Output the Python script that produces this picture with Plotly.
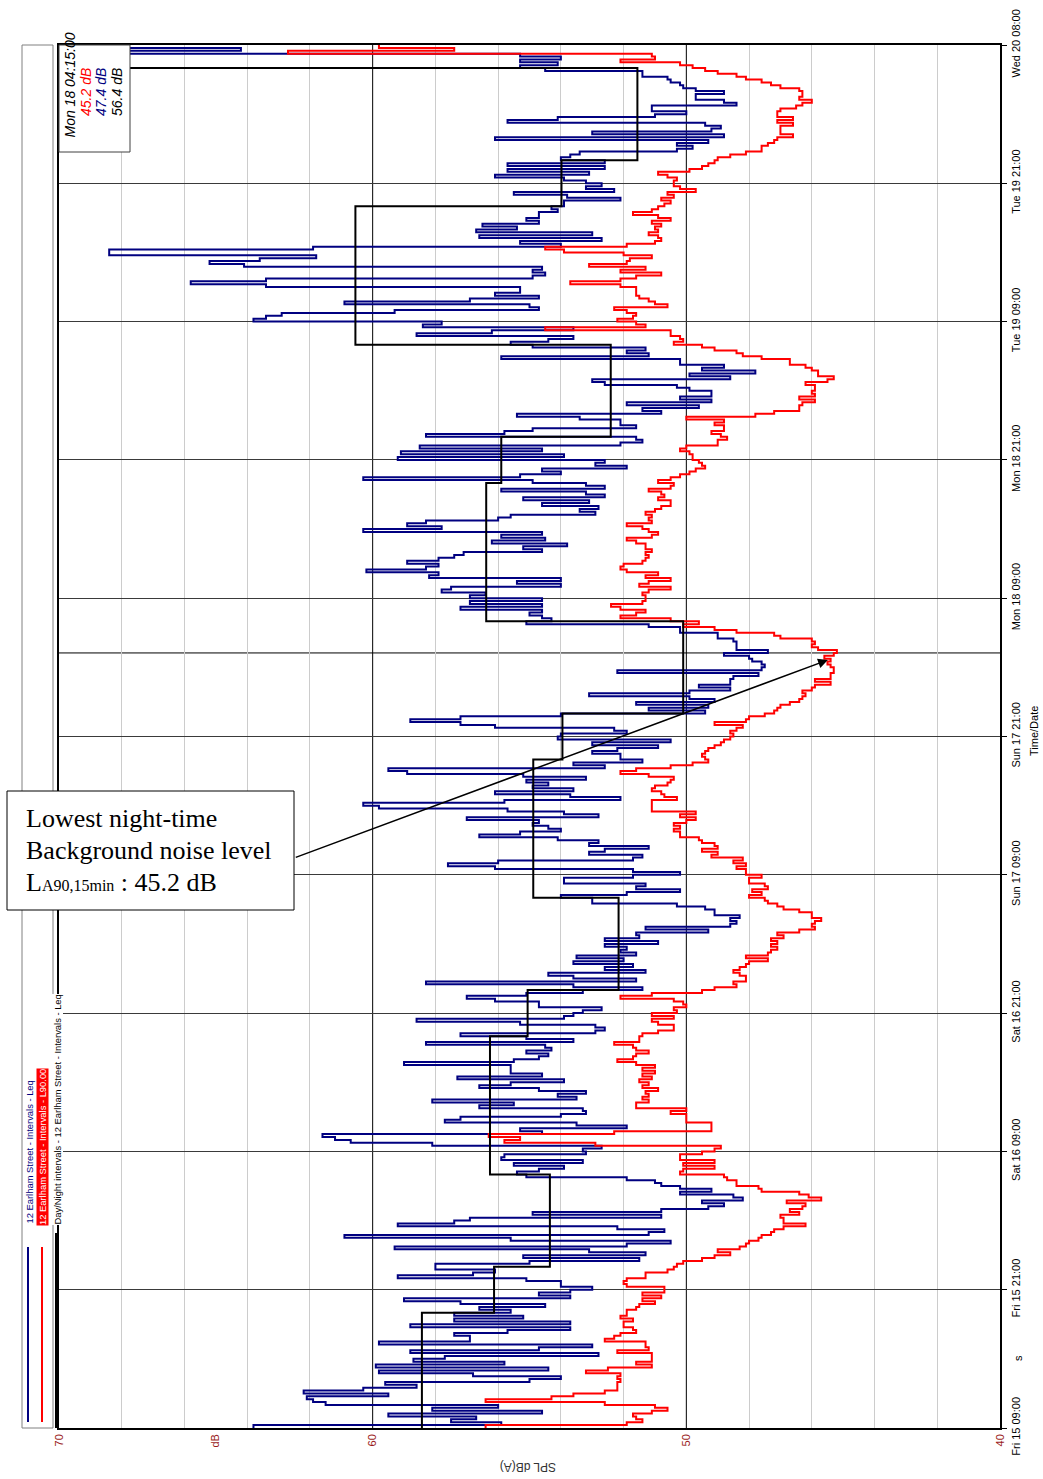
import numpy as np
import plotly.graph_objects as go

# ---------------- data (15-minute intervals from Fri 15 09:00) ----------------
INTERVAL_H = 0.25

blue_leq = [
    63.8, 55.9, 57.5, 56.7, 59.5, 54.6, 58.1, 56.0, 61.5, 61.9, 62.1, 59.5, 62.2, 60.3, 58.6, 59.6,
    55.0, 54.0, 56.8, 59.8, 54.4, 59.9, 55.8, 58.7, 57.7, 52.8, 58.8, 54.7, 53.0, 59.8, 56.9, 56.9,
    57.4, 55.7, 53.7, 58.8, 53.7, 57.4, 55.2, 57.4, 55.6, 56.6, 54.5, 57.2, 59.0, 53.7, 54.7, 53.7,
    53.0, 54.0, 54.0, 55.1, 59.2, 56.8, 56.1, 58.0, 58.0, 55.0, 51.5, 55.2, 51.3, 53.1, 59.3, 51.9,
    50.5, 55.6, 60.9, 51.2, 50.7, 52.2, 59.2, 57.4, 56.9, 50.8, 54.9, 50.8, 49.3, 48.8, 49.5, 48.2,
    48.5, 50.2, 49.2, 50.2, 50.8, 51.0, 51.9, 55.1, 55.4, 54.7, 53.9, 55.5, 53.3, 55.9, 55.8, 53.2,
    53.3, 52.7, 58.1, 60.7, 61.2, 61.6, 54.6, 55.3, 51.9, 53.5, 57.7, 57.2, 54.0, 53.2, 53.3, 56.6,
    55.5, 58.1, 53.5, 54.1, 53.2, 54.7, 56.6, 55.6, 53.9, 57.3, 54.6, 55.6, 55.6, 55.6, 59.0, 55.5,
    54.7, 54.4, 55.1, 54.3, 54.5, 58.3, 53.6, 55.1, 57.2, 52.9, 52.6, 52.9, 55.3, 58.6, 53.9, 53.6,
    53.3, 52.7, 54.7, 54.7, 56.1, 57.0, 55.1, 53.3, 51.4, 53.6, 58.3, 51.6, 53.6, 54.4, 51.3, 52.6,
    51.7, 53.6, 52.0, 53.5, 51.6, 52.1, 51.9, 52.6, 50.9, 52.6, 51.5, 51.6, 49.3, 51.3, 48.6, 48.4,
    48.6, 48.3, 49.1, 49.1, 49.4, 50.3, 53.0, 53.0, 54.0, 51.9, 50.2, 51.6, 51.3, 53.9, 53.9, 51.7,
    50.2, 51.7, 56.1, 57.6, 56.0, 51.7, 51.4, 53.1, 52.6, 51.2, 53.1, 52.8, 54.1, 56.6, 55.3, 54.0,
    54.4, 54.9, 54.7, 57.0, 52.8, 53.9, 55.7, 59.8, 60.3, 55.8, 52.1, 53.7, 56.1, 53.6, 54.9, 54.4,
    55.1, 53.2, 55.2, 58.9, 59.5, 52.6, 53.6, 51.4, 52.1, 52.1, 53.0, 52.2, 50.9, 53.0, 50.5, 54.1,
    54.0, 51.9, 52.3, 56.1, 57.2, 58.8, 57.2, 54.0, 49.4, 51.2, 49.3, 51.6, 49.1, 49.9, 53.1, 49.9,
    48.6, 49.6, 48.6, 48.6, 48.5, 47.7, 52.2, 47.6, 47.5, 47.6, 47.9, 48.0, 48.8, 47.4, 48.4, 48.4,
    48.4, 48.5, 49.0, 49.0, 50.2, 50.2, 51.2, 55.1, 54.3, 54.6, 55.0, 54.6, 57.2, 54.6, 56.9, 54.6,
    56.9, 56.4, 57.8, 57.5, 54.0, 55.4, 54.0, 58.2, 57.9, 60.2, 58.3, 57.9, 58.9, 57.9, 57.4, 57.1,
    54.6, 55.2, 53.8, 56.2, 54.5, 55.9, 54.6, 60.3, 57.8, 58.9, 58.3, 56.0, 55.6, 52.9, 53.4, 52.8,
    54.6, 53.1, 55.2, 52.6, 53.2, 55.9, 52.6, 53.2, 54.9, 60.3, 55.3, 54.0, 54.6, 51.9, 52.9, 52.6,
    59.2, 53.9, 59.1, 54.6, 58.5, 52.1, 51.4, 51.6, 58.3, 55.8, 54.9, 51.6, 52.1, 52.1, 53.4, 55.4,
    50.8, 51.4, 49.6, 51.9, 49.2, 50.2, 49.2, 49.2, 49.9, 50.3, 52.6, 53.0, 48.6, 49.9, 47.8, 49.5,
    48.8, 50.2, 50.2, 55.9, 51.2, 51.9, 51.3, 54.9, 55.6, 54.4, 53.6, 58.6, 56.2, 53.6, 58.4, 57.8,
    63.8, 63.4, 62.9, 59.3, 54.7, 55.0, 60.9, 56.9, 54.7, 56.1, 55.3, 55.3, 63.4, 65.8, 63.4, 54.9,
    54.5, 54.9, 54.6, 64.1, 65.2, 63.6, 61.8, 68.4, 68.4, 61.9, 54.0, 55.3, 52.7, 56.6, 53.0, 56.7,
    55.4, 56.5, 54.7, 55.1, 54.7, 54.7, 54.1, 54.3, 53.9, 53.9, 52.1, 53.8, 55.5, 52.3, 53.2, 52.7,
    53.2, 53.9, 56.1, 53.1, 55.7, 52.6, 55.7, 52.6, 54.0, 53.7, 53.4, 50.3, 49.8, 50.3, 49.3, 56.1,
    48.8, 53.0, 49.2, 48.9, 49.4, 55.7, 54.1, 51.0, 50.0, 51.1, 51.1, 48.4, 48.8, 49.7, 49.7, 48.8,
    49.7, 50.1, 50.2, 50.5, 50.6, 51.4, 51.4, 54.5, 55.3, 54.1, 55.3, 54.0, 55.3, 69.0, 64.2, 69.0,
]

red_l90 = [
    56.4, 51.9, 51.4, 51.6, 51.7, 51.1, 50.6, 51.0, 52.6, 56.4, 54.3, 53.6, 52.6, 52.2, 52.2, 52.2,
    52.1, 52.2, 52.1, 53.2, 52.5, 51.1, 51.6, 51.1, 51.1, 51.1, 52.2, 51.2, 51.3, 51.3, 52.6, 52.3,
    52.1, 51.6, 51.7, 52.0, 52.0, 51.7, 52.1, 51.9, 51.9, 51.6, 51.5, 51.0, 51.4, 50.8, 51.4, 50.7,
    50.7, 51.9, 52.0, 51.9, 51.3, 51.3, 50.6, 50.4, 50.3, 50.1, 49.5, 49.1, 48.6, 49.0, 48.3, 48.1,
    48.0, 47.7, 47.6, 47.3, 47.2, 46.9, 46.2, 46.9, 46.9, 47.0, 46.4, 46.7, 46.3, 46.2, 46.8, 45.7,
    46.1, 46.4, 47.6, 47.7, 48.4, 48.4, 48.7, 48.8, 50.2, 50.1, 49.1, 50.1, 49.1, 50.2, 50.2, 49.5,
    49.1, 48.9, 52.9, 55.8, 55.3, 56.3, 52.3, 49.2, 49.2, 49.2, 50.0, 50.0, 50.0, 50.5, 50.0, 51.6,
    51.6, 51.2, 51.4, 51.2, 51.3, 50.9, 51.4, 51.2, 51.5, 51.1, 51.4, 51.0, 51.4, 51.0, 51.6, 52.2,
    51.7, 51.6, 51.2, 51.6, 51.7, 52.3, 51.5, 51.5, 51.4, 50.9, 50.4, 50.4, 50.9, 51.1, 50.4, 51.1,
    50.3, 50.4, 50.0, 50.1, 50.4, 52.1, 51.1, 49.5, 49.1, 48.4, 48.5, 48.1, 48.1, 48.3, 48.5, 48.3,
    48.1, 48.0, 47.4, 48.1, 47.4, 47.3, 47.1, 47.3, 47.1, 47.3, 46.9, 47.1, 46.4, 45.9, 46.0, 45.9,
    45.7, 46.0, 46.0, 46.4, 46.9, 47.1, 47.4, 47.5, 48.0, 47.6, 47.9, 47.4, 47.5, 48.0, 48.0, 47.6,
    48.1, 48.1, 48.4, 48.1, 48.5, 48.2, 49.2, 49.0, 49.5, 49.0, 49.1, 49.5, 49.6, 50.2, 50.2, 50.4,
    50.2, 50.4, 50.0, 49.7, 50.2, 49.7, 51.1, 51.1, 51.1, 51.1, 50.3, 50.7, 50.8, 51.1, 51.0, 50.6,
    50.5, 50.4, 51.2, 52.1, 51.6, 50.5, 49.8, 49.3, 49.4, 49.5, 49.4, 49.3, 49.1, 48.9, 48.8, 48.6,
    48.5, 48.6, 48.4, 48.2, 49.1, 48.1, 48.0, 47.5, 47.2, 47.1, 47.0, 46.7, 46.4, 46.3, 46.2, 46.3,
    46.0, 45.9, 45.4, 45.9, 45.4, 45.4, 45.3, 45.3, 45.4, 45.5, 45.4, 45.6, 45.3, 45.2, 45.8, 46.0,
    45.9, 46.0, 47.0, 47.2, 48.4, 49.1, 50.1, 49.6, 50.5, 52.1, 51.6, 51.3, 52.1, 52.4, 51.4, 51.3,
    51.3, 51.4, 51.2, 50.5, 51.5, 51.2, 50.5, 51.3, 50.9, 51.9, 52.1, 52.0, 51.4, 51.3, 51.2, 51.3,
    51.1, 51.3, 51.3, 51.6, 51.9, 51.1, 50.9, 51.2, 51.4, 51.9, 51.1, 51.2, 51.1, 51.3, 51.0, 50.8,
    50.5, 50.5, 50.9, 50.7, 50.8, 51.2, 50.5, 50.4, 50.9, 50.5, 50.2, 49.9, 49.7, 49.4, 49.5, 49.6,
    49.8, 49.8, 49.9, 50.2, 50.0, 49.0, 49.0, 48.7, 48.9, 49.2, 48.8, 48.8, 49.1, 48.8, 50.0, 47.8,
    47.2, 46.4, 46.4, 46.3, 45.9, 46.4, 45.9, 46.0, 45.9, 45.9, 46.2, 45.5, 45.3, 45.8, 45.8, 46.0,
    46.2, 46.7, 46.7, 47.6, 48.2, 48.4, 49.1, 49.5, 50.4, 50.1, 50.2, 50.5, 50.5, 54.5, 51.3, 51.6,
    52.2, 51.7, 51.6, 51.9, 52.3, 50.6, 51.0, 51.2, 51.5, 51.6, 51.6, 51.6, 52.1, 53.7, 52.1, 51.6,
    50.8, 52.1, 51.3, 53.1, 51.9, 51.8, 51.1, 52.0, 53.9, 54.5, 51.9, 51.0, 50.8, 50.9, 51.2, 50.9,
    51.0, 50.8, 51.1, 50.5, 50.9, 51.7, 51.1, 50.9, 50.7, 50.5, 50.8, 50.4, 50.6, 49.7, 50.2, 50.4,
    50.4, 50.3, 50.6, 50.9, 49.9, 49.5, 49.3, 49.1, 49.0, 48.6, 48.1, 47.6, 47.6, 47.4, 47.2, 47.1,
    46.6, 47.0, 47.0, 47.0, 46.6, 47.1, 46.6, 47.1, 47.1, 47.0, 46.5, 46.3, 46.0, 46.4, 46.3, 46.3,
    46.4, 47.0, 47.3, 47.6, 48.1, 48.4, 49.0, 49.4, 49.8, 50.2, 52.1, 51.0, 51.1, 62.7, 57.4, 59.8,
]

# Day / evening / night periods (hours after Fri 15 09:00) and their levels
dn_start_h = [0, 10, 14, 22, 34, 38, 46, 58, 62, 70, 82, 86, 94, 106, 110, 118]
dn_end_h = [10, 14, 22, 34, 38, 46, 58, 62, 70, 82, 86, 94, 106, 110, 118, 120]
dn_level = [58.43, 56.13, 54.35, 56.26, 55.06, 52.16, 54.88, 53.95, 50.10, 56.38,
            55.90, 52.41, 60.55, 53.98, 51.56, 71.0]

time_tick_h = [0, 12, 24, 36, 48, 60, 72, 84, 96, 108, 120]
time_tick_labels = ["Fri 15 09:00", "Fri 15 21:00", "Sat 16 09:00", "Sat 16 21:00",
                    "Sun 17 09:00", "Sun 17 21:00", "Mon 18 09:00", "Mon 18 21:00",
                    "Tue 19 09:00", "Tue 19 21:00", "Wed 20 08:00"]
db_tick_vals = [70, 65, 60, 50, 40]
db_tick_text = ["70", "dB", "60", "50", "40"]
db_minor_grid = [42, 44, 46, 48, 52, 54, 56, 58, 62, 64, 66, 68]
db_major_grid = [60, 50]

cursor_h = 67.25
cursor_label = "Mon 18 04:15:00"
cursor_values = ["45.2 dB", "47.4 dB", "56.4 dB"]
lowest_l90 = 45.2

NAVY = "#000080"
RED = "#FF0000"

# ---------------- helpers ----------------
def step_xy(vals, starts, ends):
    x = np.repeat(np.asarray(vals, float), 2)
    y = np.column_stack([starts, ends]).ravel()
    return x, y

n = len(blue_leq)
t0 = np.arange(n) * INTERVAL_H
t1 = t0 + INTERVAL_H

W, H = 1043, 1479
L, R, T, B = 59, 43, 45, 51
PW, PH = W - L - R, H - T - B

def px(xp):
    return (xp - L) / PW

def py(yp):
    return (H - B - yp) / PH

fig = go.Figure()

bx, by = step_xy(blue_leq, t0, t1)
fig.add_trace(go.Scatter(x=bx, y=by, mode="lines", line=dict(color=NAVY, width=2),
                         name="12 Earlham Street - Intervals - Leq", hoverinfo="skip"))
rx, ry = step_xy(red_l90, t0, t1)
fig.add_trace(go.Scatter(x=rx, y=ry, mode="lines", line=dict(color=RED, width=2),
                         name="12 Earlham Street - Intervals - L90.00", hoverinfo="skip"))
dx, dy = step_xy(dn_level, dn_start_h, dn_end_h)
fig.add_trace(go.Scatter(x=dx, y=dy, mode="lines", line=dict(color="black", width=2),
                         name="Day/Night intervals", hoverinfo="skip"))

shapes = []
for v in db_major_grid:
    shapes.append(dict(type="line", xref="x", yref="paper", x0=v, x1=v, y0=0, y1=1,
                       line=dict(color="black", width=1), layer="below"))
# cursor line
shapes.append(dict(type="line", xref="paper", yref="y", x0=0, x1=1, y0=cursor_h, y1=cursor_h,
                   line=dict(color="black", width=1), layer="below"))
# legend box
shapes.append(dict(type="rect", xref="paper", yref="paper", x0=px(22), x1=px(53),
                   y0=py(1428), y1=py(45), line=dict(color="#808080", width=1),
                   fillcolor="white"))
shapes.append(dict(type="line", xref="paper", yref="paper", x0=px(28), x1=px(28),
                   y0=py(1422), y1=py(1247), line=dict(color=NAVY, width=2)))
shapes.append(dict(type="line", xref="paper", yref="paper", x0=px(42), x1=px(42),
                   y0=py(1422), y1=py(1247), line=dict(color=RED, width=2)))
shapes.append(dict(type="line", xref="paper", yref="paper", x0=px(56), x1=px(56),
                   y0=py(1428), y1=py(1233), line=dict(color="black", width=2)))
# cursor info box
shapes.append(dict(type="rect", xref="paper", yref="paper", x0=px(59), x1=px(130),
                   y0=py(152), y1=py(45), line=dict(color="#404040", width=1),
                   fillcolor="white", layer="above"))
# callout box
shapes.append(dict(type="rect", xref="paper", yref="paper", x0=px(7), x1=px(294),
                   y0=py(910), y1=py(791), line=dict(color="black", width=1),
                   fillcolor="white", layer="above"))

ann = []
SANS = "Liberation Sans, Arial, sans-serif"
SERIF = "Liberation Serif, Times New Roman, serif"
# legend texts
ann.append(dict(xref="paper", yref="paper", x=px(29), y=py(1226), text="12 Earlham Street - Intervals - Leq",
                textangle=-90, showarrow=False, xanchor="center", yanchor="bottom",
                font=dict(family=SANS, size=9.4, color=NAVY)))
ann.append(dict(xref="paper", yref="paper", x=px(42), y=py(1226), text="12 Earlham Street - Intervals - L90.00",
                textangle=-90, showarrow=False, xanchor="center", yanchor="bottom",
                font=dict(family=SANS, size=9.4, color="white"), bgcolor=RED, borderpad=0))
ann.append(dict(xref="paper", yref="paper", x=px(56.5), y=py(1226),
                text="Day/Night intervals - 12 Earlham Street - Intervals - Leq",
                textangle=-90, showarrow=False, xanchor="center", yanchor="bottom",
                font=dict(family=SANS, size=9.4, color="black"), bgcolor="white", borderpad=0))
# cursor info texts
ann.append(dict(xref="paper", yref="paper", x=px(70), y=py(140), text="<i>" + cursor_label + "</i>",
                textangle=-90, showarrow=False, xanchor="center", yanchor="bottom",
                font=dict(family=SANS, size=14, color="black")))
for xp, txt, col in zip([86, 101, 117], cursor_values, [RED, NAVY, "black"]):
    ann.append(dict(xref="paper", yref="paper", x=px(xp), y=py(118), text="<i>" + txt + "</i>",
                    textangle=-90, showarrow=False, xanchor="center", yanchor="bottom",
                    font=dict(family=SANS, size=14, color=col)))
# axis decorations
ann.append(dict(xref="paper", yref="paper", x=px(1034), y=py(731), text="Time/Date",
                textangle=-90, showarrow=False, xanchor="center", yanchor="middle",
                font=dict(family=SANS, size=11, color="black")))
ann.append(dict(xref="paper", yref="paper", x=px(1018), y=py(1358), text="s",
                textangle=-90, showarrow=False, xanchor="center", yanchor="middle",
                font=dict(family=SANS, size=11, color="black")))
ann.append(dict(xref="paper", yref="paper", x=px(528), y=py(1467), text="SPL dB(A)",
                textangle=180, showarrow=False, xanchor="center", yanchor="middle",
                font=dict(family=SANS, size=12, color="#333333")))
# callout text
ann.append(dict(xref="paper", yref="paper", x=px(24), y=py(818), text="Lowest night-time",
                showarrow=False, xanchor="left", yanchor="middle",
                font=dict(family=SERIF, size=26, color="black")))
ann.append(dict(xref="paper", yref="paper", x=px(24), y=py(850), text="Background noise level",
                showarrow=False, xanchor="left", yanchor="middle",
                font=dict(family=SERIF, size=26, color="black")))
ann.append(dict(xref="paper", yref="paper", x=px(24), y=py(882),
                text="L<span style='font-size:16px'>A90,15min</span> : %.1f dB" % lowest_l90,
                showarrow=False, xanchor="left", yanchor="middle",
                font=dict(family=SERIF, size=26, color="black")))
# arrow to the minimum
ann.append(dict(xref="x", yref="y", x=45.49, y=66.64, axref="x", ayref="y", ax=62.5, ay=49.46,
                text="", showarrow=True, arrowhead=2, arrowsize=1.3, arrowwidth=1.5,
                arrowcolor="black"))

fig.update_layout(
    width=W, height=H,
    margin=dict(l=L, r=R, t=T, b=B, pad=0),
    paper_bgcolor="white", plot_bgcolor="white",
    showlegend=False,
    font=dict(family=SANS, size=11, color="black"),
    shapes=shapes, annotations=ann,
    xaxis=dict(range=[70, 40], tickmode="array", tickvals=db_tick_vals, ticktext=db_tick_text,
               tickangle=-90, tickfont=dict(size=11, color="#9b1c1c"), showgrid=False,
               zeroline=False, showline=True, mirror=True, linecolor="black", linewidth=1.5,
               ticks="", automargin=False,
               minor=dict(tickvals=db_minor_grid, showgrid=True, gridcolor="#cccccc",
                          gridwidth=1, ticks="")),
    yaxis=dict(range=[0, 120], side="right", tickmode="array", tickvals=time_tick_h,
               ticktext=time_tick_labels, tickangle=-90, tickfont=dict(size=11, color="black"),
               showgrid=True, gridcolor="#3a3a3a", gridwidth=1, zeroline=False,
               showline=True, mirror=True, linecolor="black", linewidth=1.5,
               ticks="outside", ticklen=5, tickcolor="black", automargin=False),
)

fig.write_html("out.html", config={"displayModeBar": False},
               post_script="document.body.style.margin='0px';")
